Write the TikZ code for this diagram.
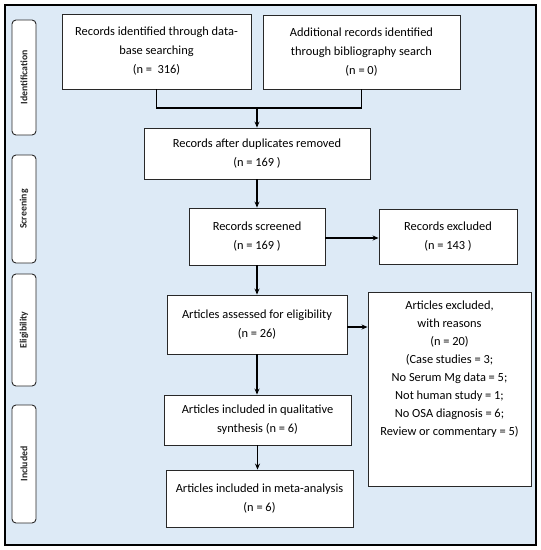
\documentclass[tikz,border=0pt]{standalone}
\usepackage{fontspec}
\setmainfont{Carlito}
\usetikzlibrary{arrows.meta}
\definecolor{bgblue}{RGB}{221,234,246}
\definecolor{edge}{RGB}{40,40,40}
\begin{document}
\begin{tikzpicture}[x=1pt,y=-1pt,
  box/.style={draw=edge,line width=0.9pt,fill=white,inner sep=0pt,
    align=center,font=\fontsize{12.4}{19}\selectfont},
  side/.style={draw=edge,line width=0.9pt,fill=white,rounded corners=4pt,
    minimum width=24pt,inner sep=0pt},
  sidetext/.style={rotate=90,font=\bfseries\fontsize{9.8}{11}\selectfont,text=black!85},
  conn/.style={line width=1.8pt,black},
  arr/.style={conn,-{Stealth[length=6pt,width=5pt]}}]
\useasboundingbox (0,0) rectangle (541,550);
\draw[fill=bgblue,line width=1.5pt] (5,5) rectangle (536,545);
% side labels
\node[side,minimum height=115pt] (s1) at (24,77.5) {};
\node[sidetext] at (s1) {Identification};
\node[side,minimum height=108pt] (s2) at (24,209) {};
\node[sidetext] at (s2) {Screening};
\node[side,minimum height=112pt] (s3) at (24,330) {};
\node[sidetext] at (s3) {Eligibility};
\node[side,minimum height=118pt] (s4) at (24,464) {};
\node[sidetext] at (s4) {Included};
% boxes
\node[box,minimum width=189pt,minimum height=75pt] (b1) at (156.5,51.5)
  {Records identified through data-\\base searching\\(n =\ \ 316)};
\node[box,minimum width=197pt,minimum height=74pt] (b2) at (361.5,52)
  {Additional records identified\\through bibliography search\\(n = 0)};
\node[box,minimum width=226pt,minimum height=51pt] (b3) at (257,153.5)
  {Records after duplicates removed\\(n = 169 )};
\node[box,minimum width=136pt,minimum height=57pt] (b4) at (257,236.5)
  {Records screened\\(n = 169 )};
\node[box,minimum width=138pt,minimum height=55pt] (b5) at (448,236.5)
  {Records excluded\\(n = 143 )};
\node[box,minimum width=180pt,minimum height=59pt] (b6) at (257,324.5)
  {Articles assessed for eligibility\\(n = 26)};
\node[box,minimum width=163pt,minimum height=194pt] (b7) at (449.5,389) {};
\node[align=center,anchor=north,inner sep=0pt,font=\fontsize{12.4}{18}\selectfont]
  (b7t) at ([yshift=-9pt]b7.north)
  {Articles excluded,\\with reasons\\(n = 20)\\(Case studies = 3;\\No Serum Mg data = 5;\\Not human study = 1;\\No OSA diagnosis = 6;\\Review or commentary = 5)};
\node[box,minimum width=187pt,minimum height=50pt] (b8) at (257.5,420)
  {Articles included in qualitative\\synthesis (n = 6)};
\node[box,minimum width=187pt,minimum height=57pt] (b9) at (259.5,498.5)
  {Articles included in meta-analysis\\(n = 6)};
% connectors
\coordinate (j) at (257,108);
\coordinate (e4) at ([yshift=-1.5pt]b4.east);
\coordinate (e6) at ([yshift=-2.5pt]b6.east);
\draw[conn] (b1.south) |- (j) -| (b2.south);
\draw[arr] (j) -- (b3.north);
\draw[arr] (b3.south) -- (b4.north);
\draw[arr] (e4) -- (e4 -| b5.west);
\draw[arr] (b4.south) -- (b6.north);
\draw[arr] (e6) -- (e6 -| b7.west);
\draw[arr] (b6.south) -- (b6.south |- b8.north);
\draw[arr] (b8.south) -- (b8.south |- b9.north);
\end{tikzpicture}
\end{document}
